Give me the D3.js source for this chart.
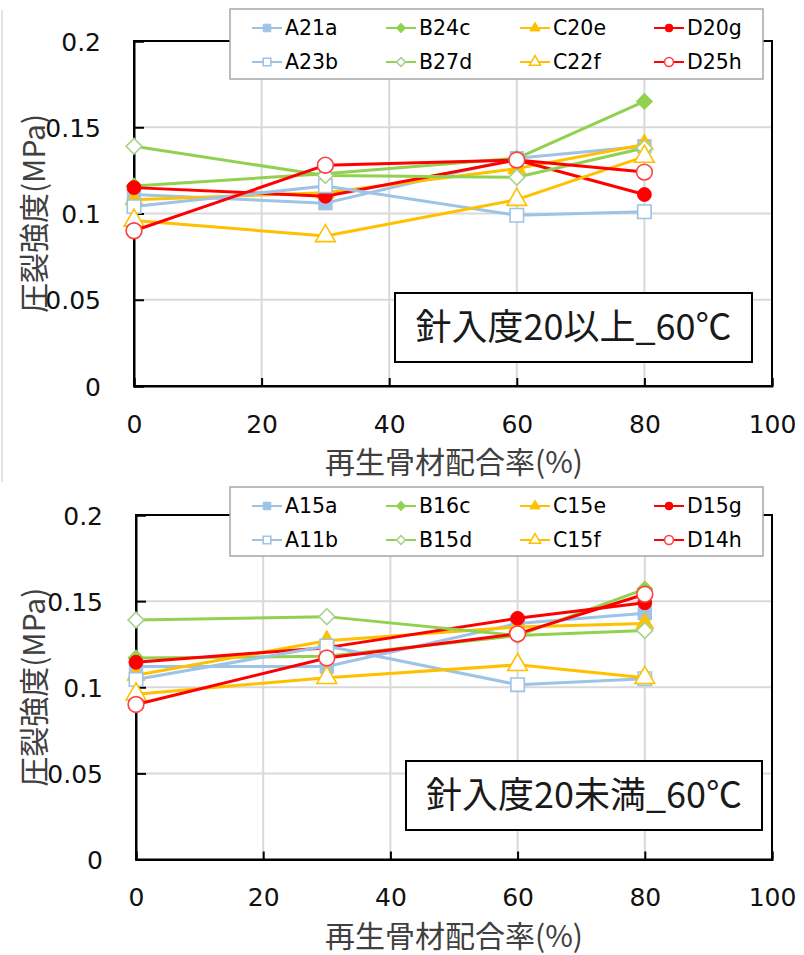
<!DOCTYPE html>
<html>
<head>
<meta charset="utf-8">
<script src="https://cdn.jsdelivr.net/npm/d3@7"></script>
<style>
  body { margin: 0; background: #fff; }
  svg { display: block; }
  text { font-family: "Noto Sans CJK JP", sans-serif; }
  .num { font-family: "DejaVu Sans", sans-serif; }
</style>
</head>
<body>
<svg id="chart"></svg>
<script>
const SVG_WIDTH = 804;
const SVG_HEIGHT = 955;

// x = 再生骨材配合率(%)
const ratios = [0, 30, 60, 80];
const xTicks = [0, 20, 40, 60, 80, 100];
const yTicks = [0, 0.05, 0.1, 0.15, 0.2];

// 針入度20以上
const upperNames = ['A21a', 'B24c', 'C20e', 'D20g', 'A23b', 'B27d', 'C22f', 'D25h'];
const upperValues = [
  [0.111, 0.106, 0.132, 0.139],
  [0.116, 0.123, 0.132, 0.165],
  [0.108, 0.112, 0.126, 0.140],
  [0.115, 0.110, 0.131, 0.111],
  [0.104, 0.116, 0.099, 0.101],
  [0.139, 0.122, 0.121, 0.138],
  [0.096, 0.087, 0.108, 0.133],
  [0.090, 0.128, 0.131, 0.124]
];

// 針入度20未満
const lowerNames = ['A15a', 'B16c', 'C15e', 'D15g', 'A11b', 'B15d', 'C15f', 'D14h'];
const lowerValues = [
  [0.112, 0.112, 0.137, 0.143],
  [0.117, 0.118, 0.130, 0.157],
  [0.107, 0.127, 0.135, 0.137],
  [0.1145, 0.123, 0.140, 0.149],
  [0.1045, 0.124, 0.1015, 0.105],
  [0.139, 0.141, 0.130, 0.133],
  [0.096, 0.1055, 0.113, 0.1055],
  [0.090, 0.117, 0.131, 0.154]
];

const xTitle = '再生骨材配合率(%)';
const yTitle = '圧裂強度(MPa)';

// Excel-like series styles, in series order.
const lineColors = ['#9dc3e6', '#92d050', '#ffc000', '#ff0000', '#9dc3e6', '#92d050', '#ffc000', '#ff0000'];
const openStroke = ['#9dc3e6', '#a9d18e', '#ffc000', '#ff4040'];
const shapes = ['square', 'diamond', 'triangle', 'circle'];

const svg = d3.select('#chart')
  .attr('width', SVG_WIDTH)
  .attr('height', SVG_HEIGHT)
  .attr('viewBox', `0 0 ${SVG_WIDTH} ${SVG_HEIGHT}`);

// thin frame line left over from the upper picture
svg.append('line')
  .attr('x1', 2).attr('x2', 2).attr('y1', 10).attr('y2', 482)
  .attr('stroke', '#c8c8c8').attr('stroke-width', 1);

function symbolPath(shape, scale) {
  if (shape === 'square') return d3.symbol(d3.symbolSquare, 180 * scale)();
  if (shape === 'diamond') return d3.symbol(d3.symbolSquare, 125 * scale)();
  if (shape === 'triangle') return d3.symbol(d3.symbolTriangle, 140 * scale)();
  return d3.symbol(d3.symbolCircle, 150 * scale)();
}

function addMarker(g, i, x, y, scale) {
  const shape = shapes[i % 4];
  const open = i >= 4;
  let s = scale;
  if (open && shape === 'circle') s *= 1.3;
  if (open && shape === 'triangle') s *= 1.2;
  g.append('path')
    .attr('d', symbolPath(shape, s))
    .attr('transform', `translate(${x},${y})` + (shape === 'diamond' ? ' rotate(45)' : ''))
    .attr('fill', open ? '#fff' : lineColors[i])
    .attr('stroke', open ? openStroke[i % 4] : lineColors[i])
    .attr('stroke-width', open ? 1.6 : 1);
}

function drawPanel(cfg) {
  const g = svg.append('g');
  const x = d3.scaleLinear().domain([0, 100]).range([cfg.left, cfg.right]);
  const y = d3.scaleLinear().domain([0, 0.2]).range([cfg.bottom, cfg.top]);

  // gridlines
  g.append('g')
    .selectAll('line')
    .data(xTicks.slice(1, -1))
    .join('line')
    .attr('x1', d => x(d)).attr('x2', d => x(d))
    .attr('y1', cfg.top).attr('y2', cfg.bottom)
    .attr('stroke', '#d9d9d9').attr('stroke-width', 2);
  g.append('g')
    .selectAll('line')
    .data(yTicks.slice(1, -1))
    .join('line')
    .attr('x1', cfg.left).attr('x2', cfg.right)
    .attr('y1', d => y(d)).attr('y2', d => y(d))
    .attr('stroke', '#d9d9d9').attr('stroke-width', 2);

  // axes with inward ticks
  const xAxis = g.append('g')
    .attr('transform', `translate(0,${cfg.bottom})`)
    .call(d3.axisBottom(x).tickValues(xTicks).tickSize(-8).tickPadding(29));
  const yAxis = g.append('g')
    .attr('transform', `translate(${cfg.left},0)`)
    .call(d3.axisLeft(y).tickValues(yTicks).tickSize(-10).tickPadding(33)
      .tickFormat(d => d === 0 ? '0' : String(+d.toFixed(2))));
  for (const ax of [xAxis, yAxis]) {
    ax.select('.domain').attr('stroke', '#000').attr('stroke-width', 2);
    ax.selectAll('.tick line').attr('stroke', '#000').attr('stroke-width', 2);
    ax.selectAll('.tick text')
      .attr('class', 'num')
      .attr('font-size', 25).attr('fill', '#111');
  }
  yAxis.selectAll('.tick text').attr('dy', '0.36em');

  // plot border
  g.append('rect')
    .attr('x', cfg.left).attr('y', cfg.top)
    .attr('width', cfg.right - cfg.left).attr('height', cfg.bottom - cfg.top)
    .attr('fill', 'none').attr('stroke', '#000').attr('stroke-width', 2);

  // axis titles
  g.append('text')
    .attr('x', 454).attr('y', cfg.bottom + 87)
    .attr('text-anchor', 'middle')
    .attr('font-size', 30).attr('fill', '#404040')
    .text(xTitle);
  g.append('text')
    .attr('transform', `translate(45,${(cfg.top + cfg.bottom) / 2}) rotate(-90)`)
    .attr('text-anchor', 'middle')
    .attr('font-size', 30).attr('fill', '#404040')
    .text(yTitle);

  // series
  const line = d3.line()
    .x((d, j) => x(ratios[j]))
    .y(d => y(d));
  cfg.values.forEach((vals, i) => {
    const sg = g.append('g');
    sg.append('path')
      .attr('d', line(vals))
      .attr('fill', 'none')
      .attr('stroke', lineColors[i])
      .attr('stroke-width', 3)
      .attr('stroke-linejoin', 'round');
    vals.forEach((v, j) => addMarker(sg, i, x(ratios[j]), y(v), 1));
  });

  // annotation box
  const box = cfg.note;
  g.append('rect')
    .attr('x', box.x).attr('y', box.y)
    .attr('width', box.w).attr('height', box.h)
    .attr('fill', '#fff').attr('stroke', '#000').attr('stroke-width', 2);
  g.append('text')
    .attr('x', box.x + box.w / 2).attr('y', box.y + box.h / 2)
    .attr('dy', '0.36em')
    .attr('text-anchor', 'middle')
    .attr('font-size', 36).attr('fill', '#1a1a1a')
    .text(box.label);

  // legend
  const lg = g.append('g');
  lg.append('rect')
    .attr('x', cfg.legend.x).attr('y', cfg.legend.y)
    .attr('width', cfg.legend.w).attr('height', cfg.legend.h)
    .attr('fill', '#fff').attr('stroke', '#a6a6a6').attr('stroke-width', 1.5);
  cfg.names.forEach((name, i) => {
    const col = i % 4;
    const row = Math.floor(i / 4);
    const lx = cfg.legend.x + 22 + col * 134;
    const ly = cfg.legend.y + 19 + row * 34;
    lg.append('line')
      .attr('x1', lx).attr('x2', lx + 30)
      .attr('y1', ly).attr('y2', ly)
      .attr('stroke', lineColors[i]).attr('stroke-width', 2);
    addMarker(lg, i, lx + 15, ly, 0.32);
    lg.append('text')
      .attr('class', 'num')
      .attr('x', lx + 33).attr('y', ly)
      .attr('dy', '0.36em')
      .attr('font-size', 20.5).attr('fill', '#000')
      .text(name);
  });
}

drawPanel({
  left: 134, right: 772, top: 41, bottom: 386,
  names: upperNames, values: upperValues,
  note: {x: 395, y: 293, w: 357, h: 69, label: '針入度20以上_60℃'},
  legend: {x: 230, y: 9, w: 533, h: 70}
});

drawPanel({
  left: 136, right: 772, top: 515, bottom: 859.5,
  names: lowerNames, values: lowerValues,
  note: {x: 406, y: 761, w: 356, h: 69, label: '針入度20未満_60℃'},
  legend: {x: 230, y: 487, w: 533, h: 69}
});
</script>
</body>
</html>
